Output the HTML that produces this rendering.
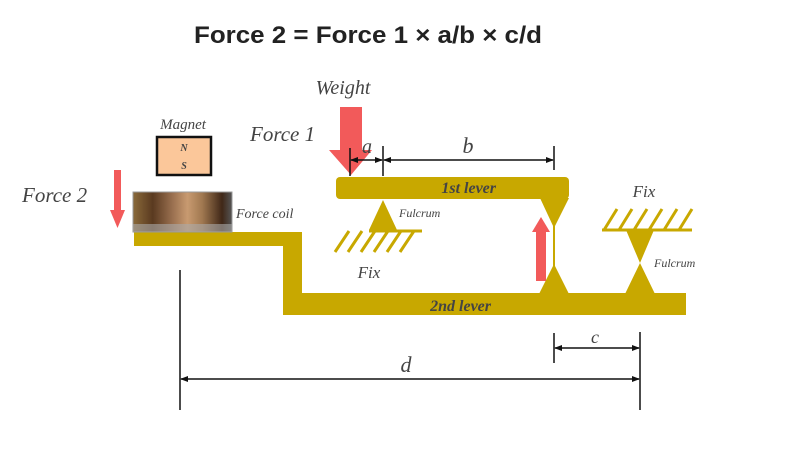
<!DOCTYPE html>
<html><head><meta charset="utf-8"><style>
html,body{margin:0;padding:0;background:#fff}
svg{display:block}
.it{font-family:"Liberation Serif",serif;font-style:italic;fill:#444}
</style></head><body>
<svg width="799" height="465" viewBox="0 0 799 465" xmlns="http://www.w3.org/2000/svg">
<defs>
<marker id="ar" markerWidth="8" markerHeight="8" refX="7" refY="4" orient="auto-start-reverse" markerUnits="userSpaceOnUse"><path d="M0,1 L8,4 L0,7 Z" fill="#111"/></marker>
<linearGradient id="coil" x1="0" x2="1">
<stop offset="0" stop-color="#8a6a3a"/><stop offset="0.2" stop-color="#5a3a20"/><stop offset="0.4" stop-color="#9a7050"/><stop offset="0.55" stop-color="#c89a70"/><stop offset="0.7" stop-color="#a07850"/><stop offset="0.9" stop-color="#402818"/><stop offset="1" stop-color="#555"/>
</linearGradient>
</defs>
<text x="368" y="43" text-anchor="middle" font-family="Liberation Sans,sans-serif" font-weight="bold" font-size="24" fill="#222" textLength="348" lengthAdjust="spacingAndGlyphs">Force 2 = Force 1 × a/b × c/d</text>

<g fill="#c8a800">
<rect x="336" y="177" width="233" height="22" rx="4"/>
<path d="M540,198 L569,198 L554,228 Z"/>
<rect x="553" y="226" width="2" height="40"/>
<path d="M554,264 L539,294 L569,294 Z"/>
<path d="M134,232 L302,232 L302,293 L686,293 L686,315 L283,315 L283,246 L134,246 Z"/>
<path d="M383,200 L397,230 L369,230 Z"/>
<path d="M626,230 L654,230 L640,263 L655,294 L625,294 L640,263 Z"/>
</g>
<g stroke="#c8a800" stroke-width="3" fill="none">
<line x1="369" y1="231" x2="422" y2="231"/>
<path d="M349,231 L335,252 M362,231 L348,252 M375,231 L361,252 M388,231 L374,252 M401,231 L387,252 M414,231 L400,252"/>
<line x1="602" y1="230" x2="692" y2="230"/>
<path d="M617,209 L604,230 M632,209 L619,230 M647,209 L634,230 M662,209 L649,230 M677,209 L664,230 M692,209 L679,230"/>
</g>

<rect x="133" y="192" width="99" height="40" fill="url(#coil)" stroke="#999"/>
<rect x="133" y="224" width="99" height="8" fill="#aaa" opacity="0.6"/>
<rect x="157" y="137" width="54" height="38" fill="#fbc79a" stroke="#111" stroke-width="2.5"/>
<text x="184" y="151" text-anchor="middle" class="it" font-size="10" font-weight="bold" fill="#333">N</text>
<text x="184" y="169" text-anchor="middle" class="it" font-size="10" font-weight="bold" fill="#333">S</text>

<g fill="#f25a5a">
<path d="M340,107 L362,107 L362,150 L372,150 L351,175 L329,150 L340,150 Z"/>
<path d="M114,170 L121,170 L121,210 L125,210 L117.5,228 L110,210 L114,210 Z"/>
<path d="M536,281 L546,281 L546,232 L550,232 L541,217 L532,232 L536,232 Z"/>
</g>

<g stroke="#111" stroke-width="1.5" fill="none">
<line x1="350" y1="148" x2="350" y2="176"/>
<line x1="383" y1="146" x2="383" y2="176"/>
<line x1="554" y1="146" x2="554" y2="170"/>
<line x1="351" y1="160" x2="382" y2="160" marker-start="url(#ar)" marker-end="url(#ar)"/>
<line x1="384" y1="160" x2="553" y2="160" marker-start="url(#ar)" marker-end="url(#ar)"/>
<line x1="180" y1="270" x2="180" y2="410"/>
<line x1="640" y1="332" x2="640" y2="410"/>
<line x1="554" y1="333" x2="554" y2="363"/>
<line x1="555" y1="348" x2="639" y2="348" marker-start="url(#ar)" marker-end="url(#ar)"/>
<line x1="181" y1="379" x2="639" y2="379" marker-start="url(#ar)" marker-end="url(#ar)"/>
</g>

<text x="343" y="94" class="it" font-size="20" text-anchor="middle">Weight</text>
<text x="183" y="129" class="it" font-size="15" text-anchor="middle">Magnet</text>
<text x="250" y="141" class="it" font-size="21">Force 1</text>
<text x="22" y="202" class="it" font-size="21">Force 2</text>
<text x="236" y="218" class="it" font-size="14">Force coil</text>
<text x="367" y="153" class="it" font-size="20" text-anchor="middle" fill="#222">a</text>
<text x="468" y="153" class="it" font-size="22" text-anchor="middle" fill="#222">b</text>
<text x="595" y="343" class="it" font-size="18" text-anchor="middle" fill="#222">c</text>
<text x="406" y="372" class="it" font-size="22" text-anchor="middle" fill="#222">d</text>
<text x="496" y="193" class="it" font-size="16" font-weight="bold" text-anchor="end" fill="#222">1st lever</text>
<text x="491" y="311" class="it" font-size="16" font-weight="bold" text-anchor="end" fill="#222">2nd lever</text>
<text x="399" y="217" class="it" font-size="12">Fulcrum</text>
<text x="654" y="267" class="it" font-size="12">Fulcrum</text>
<text x="369" y="278" class="it" font-size="17" text-anchor="middle">Fix</text>
<text x="644" y="197" class="it" font-size="17" text-anchor="middle">Fix</text>
</svg>
</body></html>
